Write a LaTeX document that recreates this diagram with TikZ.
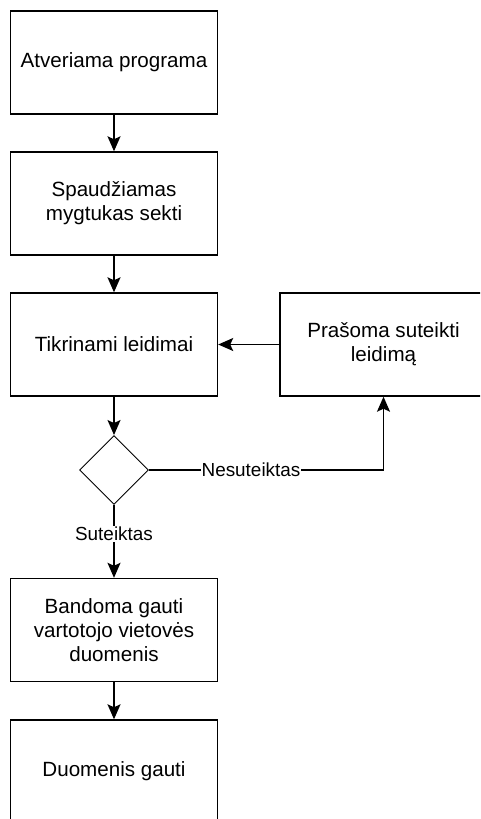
\documentclass[tikz,border=0pt]{standalone}
\usepackage{fontspec}
\setmainfont{Liberation Sans}
\usetikzlibrary{shapes.geometric,arrows.meta}
\begin{document}
\begin{tikzpicture}[x=1pt,y=-1pt,
  box/.style={draw, line width=1.4pt, minimum width=207pt, minimum height=103pt, inner sep=2pt, align=center, font=\fontsize{20.6}{24}\selectfont},
  dec/.style={draw, line width=0.9pt, diamond, aspect=1, minimum width=69pt, minimum height=69pt, inner sep=0pt},
  conn/.style={line width=1.4pt, -{Stealth[length=15pt,width=13pt,inset=3pt]}},
  lbl/.style={fill=white, inner sep=1pt, font=\fontsize{18.9}{22}\selectfont}]
\useasboundingbox (0,0) rectangle (480,819);
\clip (0,0) rectangle (480,819);
\node[box] (b1) at (114,62.5) {Atveriama programa};
\node[box] (b2) at (114,203.5) {Spaudžiamas\\mygtukas sekti};
\node[box] (b3) at (114,344.5) {Tikrinami leidimai};
\node[box] (r) at (383.5,344.5) {Prašoma suteikti\\leidimą};
\node[dec] (d) at (114,470) {};
\node[box] (b4) at (114,630) {Bandoma gauti\\vartotojo vietovės\\duomenis};
\node[box] (b5) at (114,771.5) {Duomenis gauti};
\draw[conn] (b1) -- (b2);
\draw[conn] (b2) -- (b3);
\draw[conn] (b3) -- (d);
\draw[conn] (r) -- (b3);
\draw[conn] (d) -- (b4);
\draw[conn] (b4) -- (b5);
\draw[conn] (d.east) -| (r.south);
\node[lbl] (ln) at (251,470) {Nesuteiktas};
\node[lbl] (ls) at (114,534) {Suteiktas};
\end{tikzpicture}
\end{document}
